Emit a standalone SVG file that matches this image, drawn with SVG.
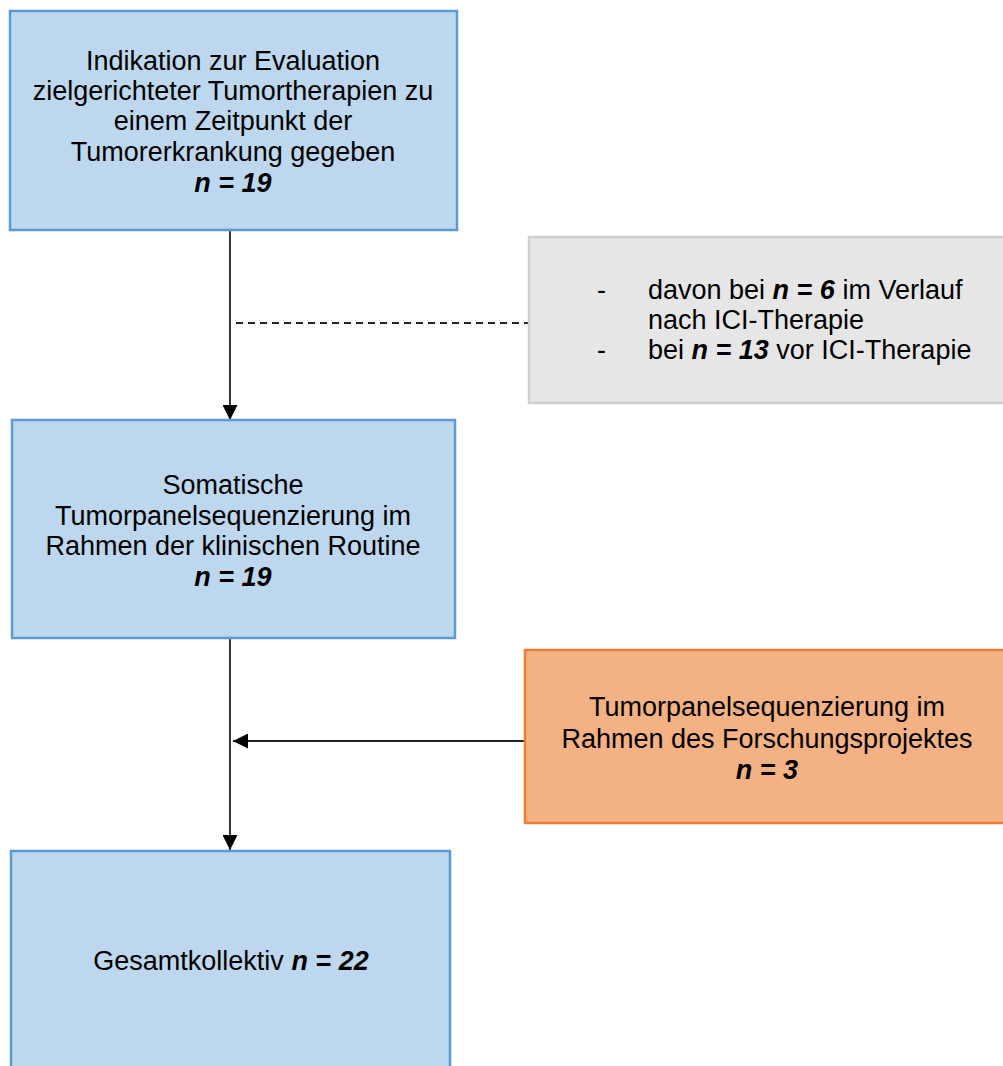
<svg xmlns="http://www.w3.org/2000/svg" width="1003" height="1066" viewBox="0 0 1003 1066">
<style>
text{font-family:"Liberation Sans",Arial,sans-serif;font-size:27px;fill:#000}
.c{text-anchor:middle}
.b{font-weight:bold;font-style:italic}
.blue{fill:#BDD7EE;stroke:#5B9BD5;stroke-width:2.5}
.gray{fill:#E6E6E6;stroke:#D0D0D0;stroke-width:2.5}
.orange{fill:#F4B183;stroke:#ED7D31;stroke-width:2.5}
.ln{stroke:#222;stroke-width:1.8;fill:none}
</style>
<defs>
<marker id="ah" markerWidth="15" markerHeight="15" refX="15" refY="7.5" orient="auto" markerUnits="userSpaceOnUse">
<path d="M0,0 L15,7.5 L0,15 Z" fill="#000"/>
</marker>
</defs>
<rect width="1003" height="1066" fill="#fff"/>
<g id="connectors">
<line class="ln" x1="230" y1="230" x2="230" y2="420" marker-end="url(#ah)"/>
<line class="ln" x1="236" y1="323" x2="528" y2="323" stroke-dasharray="7,5"/>
<line class="ln" x1="230" y1="638" x2="230" y2="850" marker-end="url(#ah)"/>
<line class="ln" x1="525" y1="741" x2="233" y2="741" marker-end="url(#ah)"/>
</g>
<g id="node1">
<rect class="blue" x="10" y="11" width="447" height="219"/>
<text class="c" x="233" y="70">Indikation zur Evaluation</text>
<text class="c" x="233" y="100">zielgerichteter Tumortherapien zu</text>
<text class="c" x="233" y="130">einem Zeitpunkt der</text>
<text class="c" x="233" y="161">Tumorerkrankung gegeben</text>
<text class="c b" x="233" y="192">n = 19</text>
</g>
<g id="node2">
<rect class="gray" x="529" y="237" width="480" height="166"/>
<text x="597" y="299">-</text>
<text x="648" y="299">davon bei <tspan class="b">n = 6</tspan> im Verlauf</text>
<text x="648" y="329">nach ICI-Therapie</text>
<text x="597" y="359">-</text>
<text x="648" y="359">bei <tspan class="b">n = 13</tspan> vor ICI-Therapie</text>
</g>
<g id="node3">
<rect class="blue" x="12" y="420" width="443" height="218"/>
<text class="c" x="233" y="494">Somatische</text>
<text class="c" x="233" y="525">Tumorpanelsequenzierung im</text>
<text class="c" x="233" y="555">Rahmen der klinischen Routine</text>
<text class="c b" x="233" y="586">n = 19</text>
</g>
<g id="node4">
<rect class="orange" x="525" y="650" width="485" height="173"/>
<text class="c" x="767" y="716">Tumorpanelsequenzierung im</text>
<text class="c" x="767" y="748">Rahmen des Forschungsprojektes</text>
<text class="c b" x="767" y="779">n = 3</text>
</g>
<g id="node5">
<rect class="blue" x="11" y="851" width="439" height="230"/>
<text class="c" x="231" y="970">Gesamtkollektiv <tspan class="b">n = 22</tspan></text>
</g>
</svg>
